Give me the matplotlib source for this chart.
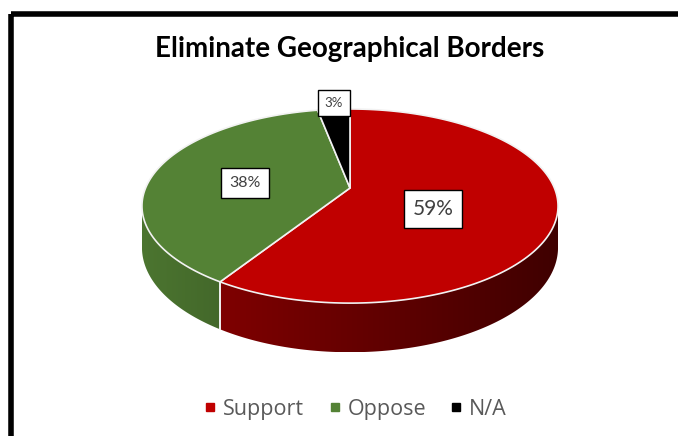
import numpy as np
import matplotlib.pyplot as plt
from matplotlib.patches import Polygon, Rectangle
from matplotlib.lines import Line2D
from matplotlib.colors import to_rgb

# data
labels = ['Support', 'Oppose', 'N/A']
values = [59, 38, 3]
pct_labels = ['59%', '38%', '3%']
colors = ['#C00000', '#548235', '#000000']

title = 'Eliminate Geographical Borders'

# layout (pixels, figure is 678x436)
W, H = 678, 436
CX, CY = 350, 188      # where the slices meet
SX, SY = 204.4, 93.7   # size of the top face
K = 0.186              # perspective strength
DEPTH = 40             # thickness of the pie
label_pos = [(433, 209), (245, 183), (334, 103)]
label_size = [15, 11.5, 9.5]
label_pad = [0.42, 0.5, 0.5]
# wall shading (left -> right) per slice
wall_shade = [(0.66, 0.33), (0.9, 0.8), (0.5, 0.5)]

plt.rcParams['font.family'] = ['Lato', 'DejaVu Sans']


def proj(theta, r=1.0, drop=False):
    # theta in degrees, clockwise from 12 o'clock
    th = np.radians(theta)
    u = r * np.sin(th)
    v = -r * np.cos(th)
    w = 1 - K * v
    x = CX + SX * u / w
    y = CY + SY * v / w
    if drop:
        y = y + DEPTH / w
    return x, y


fig = plt.figure(figsize=(W / 100, H / 100), dpi=100)
ax = fig.add_axes([0, 0, 1, 1])

# outer frame
ax.add_patch(Rectangle((11, 14), W + 50, H + 50, fill=False, ec='black', lw=4))

total = sum(values)
bounds = np.concatenate([[0], np.cumsum(values)]) / total * 360
vis_lo = np.degrees(np.arccos(-K))
vis_hi = 360 - vis_lo

# side walls (only the front part is visible), shaded left -> right
for i in range(len(values)):
    a0, a1 = max(bounds[i], vis_lo), min(bounds[i + 1], vis_hi)
    if a1 <= a0:
        continue
    th = np.linspace(a0, a1, 150)
    xt, yt = proj(th)
    xb, yb = proj(th, drop=True)
    pts = list(zip(xt, yt)) + list(zip(xb[::-1], yb[::-1]))
    wall = Polygon(pts, closed=True, fc='none', ec='none')
    ax.add_patch(wall)
    base = np.array(to_rgb(colors[i]))
    s0, s1 = wall_shade[i]
    f = np.linspace(s0, s1, 256)
    grad = (f[:, None] * base[None, :])[None, :, :]
    im = ax.imshow(grad, extent=(xt.min(), xt.max(), yb.max(), yt.min()),
                   aspect='auto', interpolation='bilinear')
    im.set_clip_path(wall)
    # white seam at slice edges on the wall
    for a in (bounds[i], bounds[i + 1]):
        if vis_lo < a < vis_hi:
            x0, y0 = proj(a)
            x1, y1 = proj(a, drop=True)
            ax.plot([x0, x1], [y0, y1], color='#f2f2f2', lw=1.2)

# top faces
for i in range(len(values)):
    th = np.linspace(bounds[i], bounds[i + 1], 200)
    xt, yt = proj(th)
    pts = [(CX, CY)] + list(zip(xt, yt))
    ax.add_patch(Polygon(pts, closed=True, fc=colors[i], ec='#f2f2f2', lw=1.2,
                         joinstyle='round'))

# data labels
for i in range(len(values)):
    ax.text(label_pos[i][0], label_pos[i][1], pct_labels[i], fontsize=label_size[i],
            color='#404040', ha='center', va='center',
            bbox=dict(boxstyle=f'square,pad={label_pad[i]}', fc='white', ec='black', lw=1))

ax.text(350, 49, title, fontsize=20, fontweight='bold', color='black',
        ha='center', va='center')

handles = [Line2D([], [], marker='s', ls='none', color=c, markersize=5.5) for c in colors]
ax.legend(handles, labels, loc='center', bbox_to_anchor=(356 / W, 1 - 409 / H),
          ncol=3, frameon=False, labelcolor='#595959',
          prop={'family': 'Open Sans', 'size': 15.5},
          handlelength=0.5, handletextpad=0.35, columnspacing=1.15)

ax.set_xlim(0, W)
ax.set_ylim(H, 0)
ax.axis('off')

fig.savefig('out.png', dpi=100)
